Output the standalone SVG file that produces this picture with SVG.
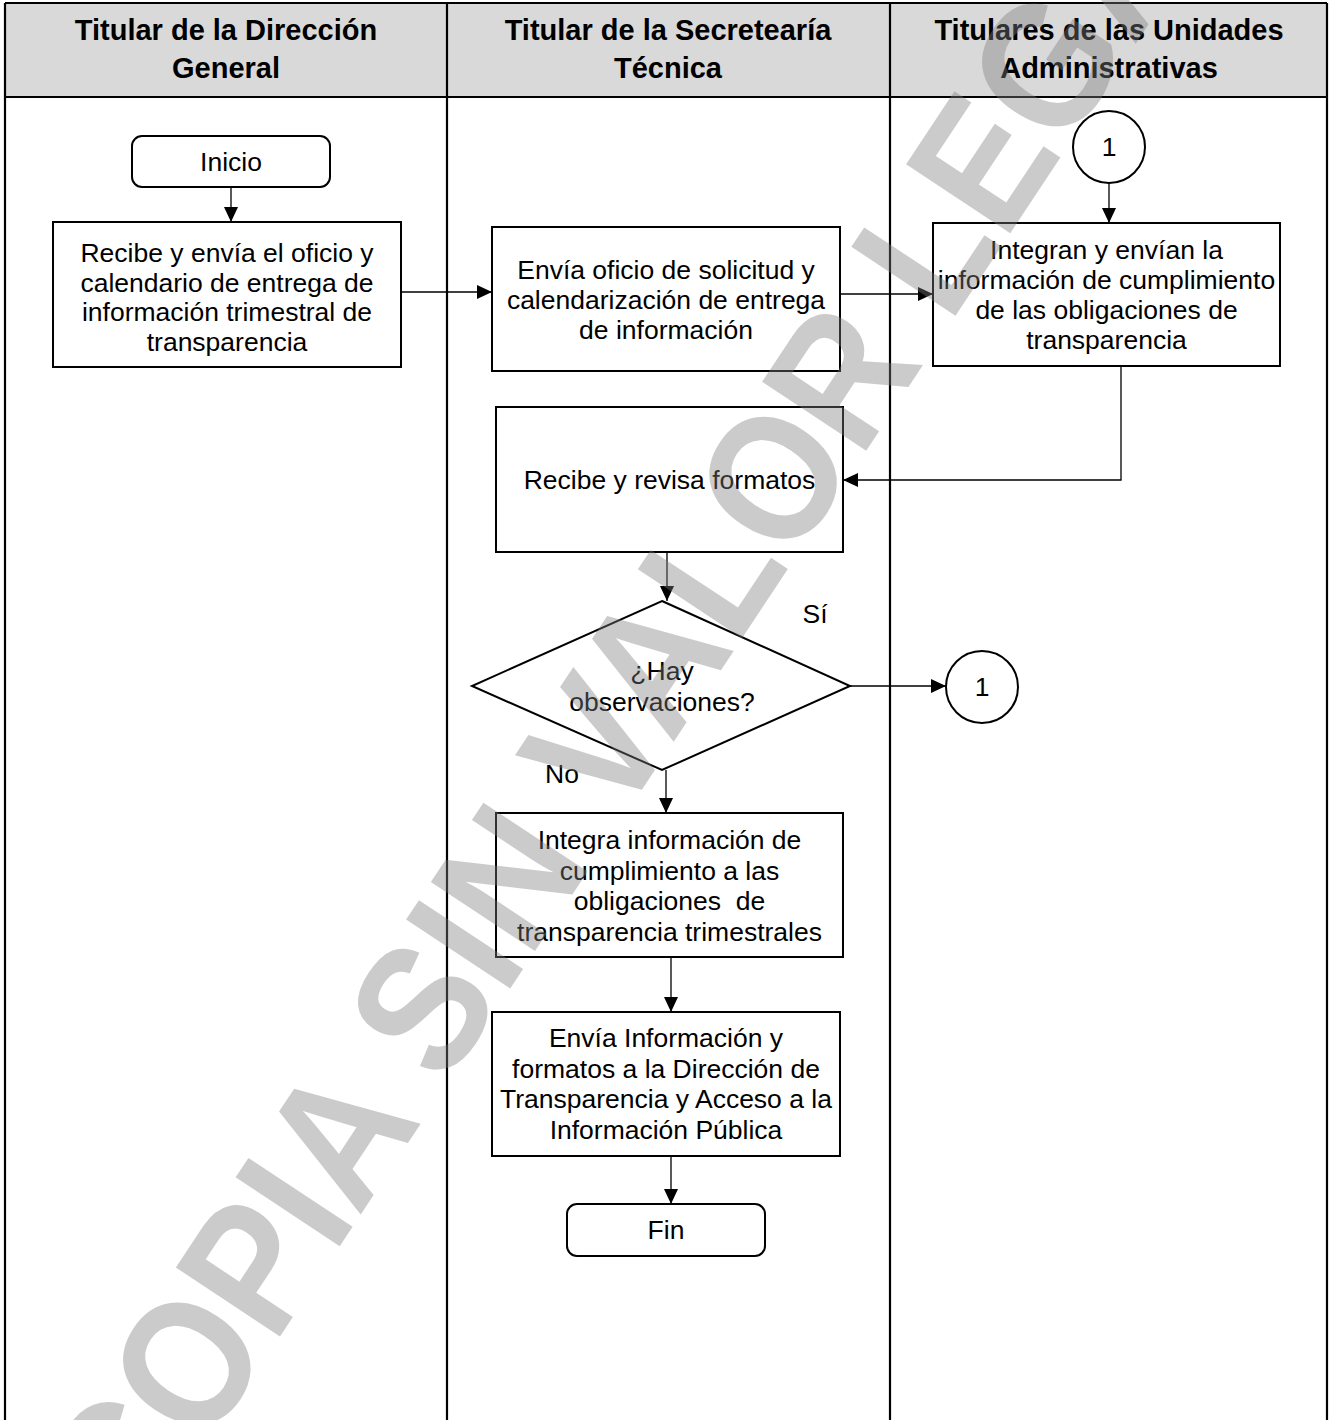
<svg xmlns="http://www.w3.org/2000/svg" width="1331" height="1420" viewBox="0 0 1331 1420">
<style>
  .hdr { font-family: "Liberation Sans", Arial, sans-serif; font-weight: bold; font-size: 29px; fill: #000; text-anchor: middle; }
  .txt { font-family: "Liberation Sans", Arial, sans-serif; font-size: 26.5px; fill: #000; text-anchor: middle; }
  .shape { fill: #fff; stroke: #000; stroke-width: 2; }
  .lane { stroke: #000; stroke-width: 2.2; fill: none; }
  .conn { stroke: #000; stroke-width: 1.3; fill: none; marker-end: url(#arrow); }
  .wm { font-family: "Liberation Sans", Arial, sans-serif; font-weight: bold; font-size: 162px; fill: #7d7d7d; fill-opacity: 0.4; }
</style>
<defs>
  <marker id="arrow" markerUnits="userSpaceOnUse" markerWidth="16" markerHeight="16" refX="15" refY="7" orient="auto">
    <path d="M0,0 L15,7 L0,14 z" fill="#000"/>
  </marker>
</defs>
<rect x="0" y="0" width="1331" height="1420" fill="#fff"/>
<g id="swimlanes">
  <rect x="5" y="3" width="1322" height="94" fill="#d9d9d9"/>
  <line class="lane" x1="5" y1="3" x2="1327" y2="3"/>
  <line class="lane" x1="5" y1="97" x2="1327" y2="97"/>
  <line class="lane" x1="5" y1="3" x2="5" y2="1420"/>
  <line class="lane" x1="447" y1="3" x2="447" y2="1420"/>
  <line class="lane" x1="890" y1="3" x2="890" y2="1420"/>
  <line class="lane" x1="1327" y1="3" x2="1327" y2="1420"/>
  <text class="hdr" x="226" y="40">Titular de la Dirección</text>
  <text class="hdr" x="226" y="78">General</text>
  <text class="hdr" x="668" y="40">Titular de la Secretearía</text>
  <text class="hdr" x="668" y="78">Técnica</text>
  <text class="hdr" x="1109" y="40">Titulares de las Unidades</text>
  <text class="hdr" x="1109" y="78">Administrativas</text>
</g>
<g id="connectors">
  <path class="conn" d="M231,187 V222"/>
  <path class="conn" d="M401,292 H492"/>
  <path class="conn" d="M840,294 H933"/>
  <path class="conn" d="M1109,183 V223"/>
  <path class="conn" d="M1121,366 V480 H843"/>
  <path class="conn" d="M667,552 V601"/>
  <path class="conn" d="M850,686 H946"/>
  <path class="conn" d="M666,770 V813"/>
  <path class="conn" d="M671,957 V1012"/>
  <path class="conn" d="M671,1156 V1204"/>
</g>
<g id="inicio">
  <rect class="shape" x="132" y="136" width="198" height="51" rx="10"/>
  <text class="txt" x="231" y="171">Inicio</text>
</g>
<g id="recibe-envia">
  <rect class="shape" x="53" y="222" width="348" height="145"/>
  <text class="txt" x="227" y="262">Recibe y envía el oficio y<tspan x="227" dy="29.5">calendario de entrega de</tspan><tspan x="227" dy="29.5">información trimestral de</tspan><tspan x="227" dy="29.5">transparencia</tspan></text>
</g>
<g id="envia-oficio">
  <rect class="shape" x="492" y="227" width="348" height="144"/>
  <text class="txt" x="666" y="279">Envía oficio de solicitud y<tspan x="666" dy="30">calendarización de entrega</tspan><tspan x="666" dy="30">de información</tspan></text>
</g>
<g id="conector-1-entrada">
  <circle class="shape" cx="1109" cy="147" r="36"/>
  <text class="txt" x="1109" y="156">1</text>
</g>
<g id="integran-envian">
  <rect class="shape" x="933" y="223" width="347" height="143"/>
  <text class="txt" x="1106.5" y="259">Integran y envían la<tspan x="1106.5" dy="30">información de cumplimiento</tspan><tspan x="1106.5" dy="30">de las obligaciones de</tspan><tspan x="1106.5" dy="30">transparencia</tspan></text>
</g>
<g id="recibe-revisa">
  <rect class="shape" x="496" y="407" width="347" height="145"/>
  <text class="txt" x="669.5" y="489">Recibe y revisa formatos</text>
</g>
<g id="decision">
  <polygon class="shape" points="662,601 850,686 662,770 472,686"/>
  <text class="txt" x="662" y="680">¿Hay<tspan x="662" dy="31">observaciones?</tspan></text>
  <text class="txt" x="815" y="623">Sí</text>
  <text class="txt" x="562" y="783">No</text>
</g>
<g id="conector-1-salida">
  <circle class="shape" cx="982" cy="687" r="36"/>
  <text class="txt" x="982" y="696">1</text>
</g>
<g id="integra-informacion">
  <rect class="shape" x="496" y="813" width="347" height="144"/>
  <text class="txt" x="669.5" y="849" xml:space="preserve">Integra información de<tspan x="669.5" dy="30.5">cumplimiento a las</tspan><tspan x="669.5" dy="30.5">obligaciones  de</tspan><tspan x="669.5" dy="30.5">transparencia trimestrales</tspan></text>
</g>
<g id="envia-informacion">
  <rect class="shape" x="492" y="1012" width="348" height="144"/>
  <text class="txt" x="666" y="1047">Envía Información y<tspan x="666" dy="30.7">formatos a la Dirección de</tspan><tspan x="666" dy="30.7">Transparencia y Acceso a la</tspan><tspan x="666" dy="30.7">Información Pública</tspan></text>
</g>
<g id="fin">
  <rect class="shape" x="567" y="1204" width="198" height="52" rx="10"/>
  <text class="txt" x="666" y="1239">Fin</text>
</g>
<g id="watermark">
  <text class="wm" transform="translate(139.9,1548) rotate(-56.5) scale(1,1.12)">COPIA SIN VALOR LEGAL</text>
</g>
</svg>
